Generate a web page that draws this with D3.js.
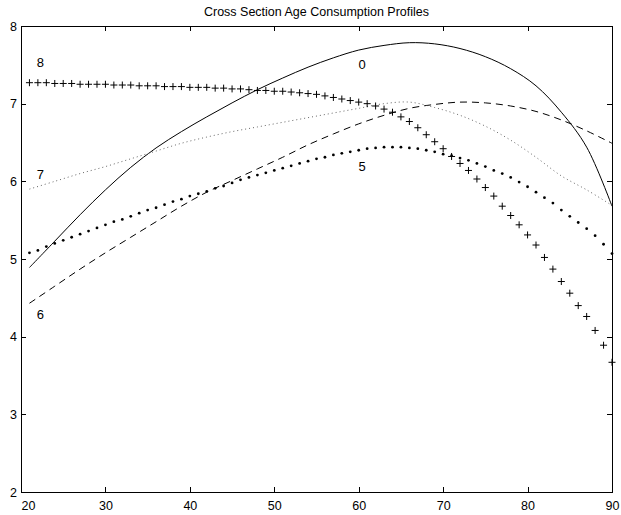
<!DOCTYPE html>
<html>
<head>
<meta charset="utf-8">
<script src="https://cdn.jsdelivr.net/npm/d3@7"></script>
<style>
  body { margin: 0; background: #ffffff; }
  svg { display: block; font-family: "Liberation Sans", Arial, Helvetica, sans-serif; }
</style>
</head>
<body>
<div id="grafico"></div>
<script>
// Datos
const titulo = "Cross Section Age Consumption Profiles";

// Edades de las series con marcadores (un punto por año)
const edades = d3.range(21, 91);
// Edades de las series dibujadas como linea
const edadesLinea = [21, 24, 27, 30, 33, 36, 39, 42, 45, 48, 51, 54, 57, 60, 63, 66, 69, 72, 75, 78, 81, 84, 87, 90];

const ticksX = [20, 30, 40, 50, 60, 70, 80, 90];
const ticksY = [2, 3, 4, 5, 6, 7, 8];

// Serie 0 (linea continua)
const serie0 = [4.89, 5.23, 5.57, 5.89, 6.18, 6.43, 6.64, 6.83, 7.01, 7.18, 7.33, 7.47,
  7.59, 7.69, 7.75, 7.785, 7.77, 7.71, 7.605, 7.45, 7.23, 6.89, 6.44, 5.68];

// Serie 6 (linea discontinua)
const serie6 = [4.43, 4.65, 4.87, 5.08, 5.28, 5.48, 5.68, 5.86, 6.01, 6.16, 6.31, 6.47,
  6.61, 6.74, 6.85, 6.94, 6.99, 7.02, 7.01, 6.97, 6.90, 6.79, 6.65, 6.49];

// Serie 7 (punteado fino)
const serie7 = [5.90, 6.00, 6.10, 6.19, 6.29, 6.39, 6.49, 6.57, 6.64, 6.70, 6.76, 6.82,
  6.88, 6.94, 7.00, 7.02, 6.95, 6.85, 6.71, 6.53, 6.31, 6.07, 5.89, 5.69];

// Serie 5 (puntos gruesos), edades 21..90
const serie5 = [5.08, 5.11, 5.16, 5.20, 5.24, 5.28, 5.32, 5.36, 5.40, 5.44,
  5.48, 5.51, 5.55, 5.59, 5.63, 5.66, 5.70, 5.74, 5.77, 5.81,
  5.84, 5.87, 5.91, 5.94, 5.98, 6.02, 6.05, 6.08, 6.11, 6.14,
  6.17, 6.20, 6.23, 6.26, 6.29, 6.31, 6.34, 6.36, 6.38, 6.40,
  6.42, 6.43, 6.44, 6.44, 6.44, 6.43, 6.42, 6.40, 6.38, 6.35,
  6.33, 6.30, 6.27, 6.23, 6.19, 6.14, 6.10, 6.05, 5.99, 5.93,
  5.86, 5.79, 5.72, 5.63, 5.55, 5.47, 5.39, 5.30, 5.19, 5.07];

// Serie 8 (cruces), edades 21..90
const serie8 = [7.27, 7.27, 7.27, 7.26, 7.26, 7.26, 7.25, 7.25, 7.25, 7.25,
  7.24, 7.24, 7.24, 7.23, 7.23, 7.23, 7.22, 7.22, 7.22, 7.21,
  7.21, 7.21, 7.20, 7.20, 7.19, 7.19, 7.18, 7.17, 7.17, 7.16,
  7.16, 7.15, 7.14, 7.13, 7.12, 7.10, 7.08, 7.06, 7.04, 7.02,
  7.00, 6.97, 6.93, 6.89, 6.83, 6.77, 6.69, 6.60, 6.51, 6.42,
  6.32, 6.23, 6.14, 6.03, 5.92, 5.81, 5.68, 5.56, 5.44, 5.31,
  5.18, 5.02, 4.87, 4.71, 4.56, 4.40, 4.26, 4.08, 3.89, 3.67];

// Etiquetas de las series: [texto, edad, valor]
const etiquetas = [["8", 22.3, 7.53], ["7", 22.3, 6.09], ["6", 22.3, 4.29], ["0", 60.4, 7.50], ["5", 60.4, 6.19]];

const ancho = 621;
const alto = 515;

function dibujarGrafico() {
  const svg = d3
    .select("#grafico")
    .append("svg")
    .attr("width", ancho)
    .attr("height", alto);

  const x = d3.scaleLinear().domain([20, 90]).range([21, 612]);
  const y = d3.scaleLinear().domain([2, 8]).range([492, 26]);

  // Titulo
  svg
    .append("text")
    .attr("x", (x.range()[0] + x.range()[1]) / 2)
    .attr("y", 16)
    .attr("text-anchor", "middle")
    .attr("font-size", 12.5)
    .text(titulo);

  // Ejes (marcas hacia dentro, en los cuatro lados)
  const ejeAbajo = svg
    .append("g")
    .attr("transform", `translate(0,${y.range()[0]})`)
    .call(d3.axisBottom(x).tickValues(ticksX).tickSizeInner(-5).tickSizeOuter(0).tickPadding(9));
  ejeAbajo.selectAll("text").filter(d => d === 20).attr("text-anchor", "start");

  svg
    .append("g")
    .attr("transform", `translate(${x.range()[0]},0)`)
    .call(d3.axisLeft(y).tickValues(ticksY).tickFormat(d3.format("d")).tickSizeInner(-5).tickSizeOuter(0).tickPadding(4));

  svg
    .append("g")
    .attr("transform", `translate(0,${y.range()[1]})`)
    .call(d3.axisTop(x).tickValues(ticksX).tickSizeInner(-5).tickSizeOuter(0).tickFormat(""));

  svg
    .append("g")
    .attr("transform", `translate(${x.range()[1]},0)`)
    .call(d3.axisRight(y).tickValues(ticksY).tickSizeInner(-5).tickSizeOuter(0).tickFormat(""));

  svg.selectAll(".domain, .tick line").attr("stroke", "#000").attr("shape-rendering", "crispEdges");
  svg.selectAll(".tick text").attr("font-size", 12.5).attr("fill", "#000").attr("font-family", null);

  const linea = d3
    .line()
    .x((d, i) => x(edadesLinea[i]))
    .y(d => y(d))
    .curve(d3.curveCatmullRom.alpha(0.5));

  // Serie 0: continua
  svg
    .append("path")
    .attr("d", linea(serie0))
    .attr("fill", "none")
    .attr("stroke", "#000")
    .attr("stroke-width", 1);

  // Serie 6: discontinua
  svg
    .append("path")
    .attr("d", linea(serie6))
    .attr("fill", "none")
    .attr("stroke", "#000")
    .attr("stroke-width", 1)
    .attr("stroke-dasharray", "7,5");

  // Serie 7: punteado fino
  svg
    .append("path")
    .attr("d", linea(serie7))
    .attr("fill", "none")
    .attr("stroke", "#666")
    .attr("stroke-width", 1)
    .attr("stroke-dasharray", "1,3");

  // Serie 5: puntos
  svg
    .append("g")
    .selectAll("circle")
    .data(serie5)
    .join("circle")
    .attr("cx", (d, i) => x(edades[i]))
    .attr("cy", d => y(d))
    .attr("r", 1.4)
    .attr("fill", "#000");

  // Serie 8: cruces
  svg
    .append("g")
    .selectAll("path")
    .data(serie8)
    .join("path")
    .attr("transform", (d, i) => `translate(${x(edades[i])},${y(d)})`)
    .attr("d", "M-3.5,0H3.5M0,-3.5V3.5")
    .attr("stroke", "#000")
    .attr("stroke-width", 1);

  // Etiquetas de las series
  etiquetas.forEach((et) => {
    svg
      .append("text")
      .attr("x", x(et[1]))
      .attr("y", y(et[2]))
      .attr("dy", "0.35em")
      .attr("text-anchor", "middle")
      .attr("font-size", 13)
      .text(et[0]);
  });
}

dibujarGrafico();
</script>
</body>
</html>
